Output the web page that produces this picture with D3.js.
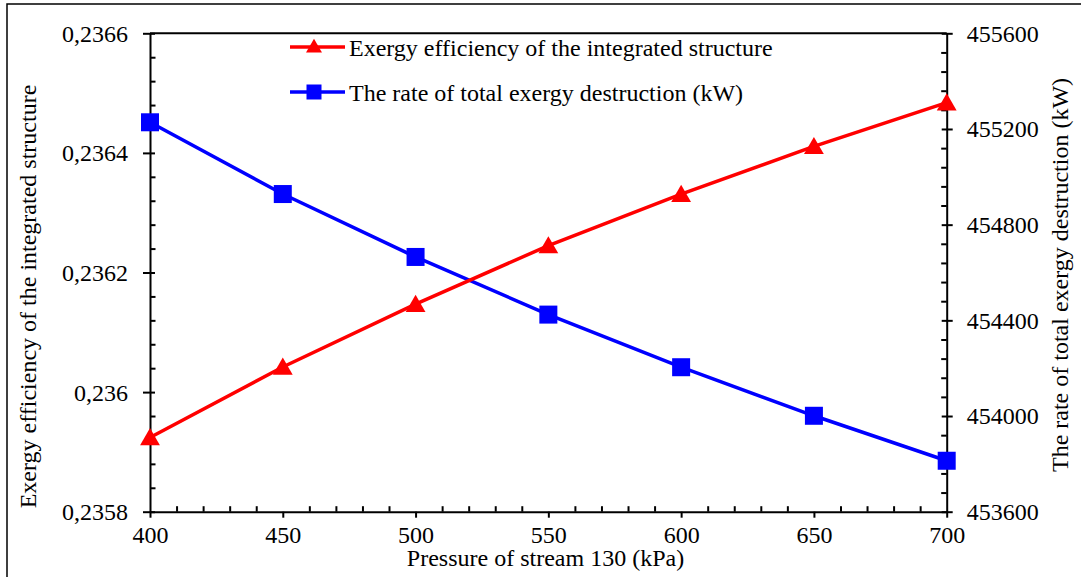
<!DOCTYPE html>
<html>
<head>
<meta charset="utf-8">
<script src="https://cdn.jsdelivr.net/npm/d3@7"></script>
<style>
  body { margin: 0; background: #fff; }
</style>
</head>
<body>
<div id="chart"></div>
<script>
// data
const pressure = [400, 450, 500, 550, 600, 650, 700];
const efficiency = [0.235924, 0.236042, 0.236147, 0.236245, 0.236331, 0.236411, 0.236484];
const destruction = [455228, 454928, 454665, 454424, 454204, 454001, 453813];

const xTicks = [400, 450, 500, 550, 600, 650, 700];
const leftTicks = [0.2358, 0.236, 0.2362, 0.2364, 0.2366];
const rightTicks = [453600, 454000, 454400, 454800, 455200, 455600];

const width = 1081, height = 577;
const margin = { left: 150, right: 1081 - 946.7, top: 33.3, bottom: 577 - 511.7 };
const serif = "Liberation Serif";

const svg = d3.select("#chart")
    .append("svg")
    .attr("width", width)
    .attr("height", height);

// outer frame (cut off at the right and bottom)
svg.append("rect")
    .attr("x", 7).attr("y", 4)
    .attr("width", 1100).attr("height", 600)
    .attr("fill", "none")
    .attr("stroke", "#000")
    .attr("stroke-width", 1.5);

const x = d3.scaleLinear().domain([400, 700]).range([margin.left, width - margin.right]);
const yL = d3.scaleLinear().domain([0.2358, 0.2366]).range([height - margin.bottom, margin.top]);
const yR = d3.scaleLinear().domain([453600, 455600]).range([height - margin.bottom, margin.top]);

const loc = d3.formatLocale({ decimal: ",", thousands: "", grouping: [3], currency: ["", ""] });
const fmtL = loc.format(".4~f");

const fontSize = 24;

// minor ticks
const minorX = d3.range(400, 700.01, 10).filter(v => v % 50 !== 0);
const minorL = d3.range(0, 20).map(i => 0.2358 + i * 0.00004).filter((v, i) => i % 5 !== 0);
const minorR = d3.range(0, 25).map(i => 453600 + i * 80).filter((v, i) => i % 5 !== 0);

svg.append("g")
    .attr("transform", `translate(0,${height - margin.bottom})`)
    .call(d3.axisBottom(x).tickValues(minorX).tickSize(-5.5).tickFormat(""))
    .call(g => g.select(".domain").remove())
    .selectAll("line").attr("stroke-width", 2);

svg.append("g")
    .attr("transform", `translate(${margin.left},0)`)
    .call(d3.axisLeft(yL).tickValues(minorL).tickSize(-5.5).tickFormat(""))
    .call(g => g.select(".domain").remove())
    .selectAll("line").attr("stroke-width", 2);

svg.append("g")
    .attr("transform", `translate(${width - margin.right},0)`)
    .call(d3.axisRight(yR).tickValues(minorR).tickSize(-5.5).tickFormat(""))
    .call(g => g.select(".domain").remove())
    .selectAll("line").attr("stroke-width", 2);

// top frame line
svg.append("line")
    .attr("x1", margin.left).attr("x2", width - margin.right)
    .attr("y1", margin.top).attr("y2", margin.top)
    .attr("stroke", "#000").attr("stroke-width", 2);

// major axes
const xAxis = svg.append("g")
    .attr("transform", `translate(0,${height - margin.bottom})`)
    .call(d3.axisBottom(x).tickValues(xTicks).tickSize(6).tickSizeOuter(0));

const lAxis = svg.append("g")
    .attr("transform", `translate(${margin.left},0)`)
    .call(d3.axisLeft(yL).tickValues(leftTicks).tickFormat(fmtL).tickSize(7).tickSizeOuter(0).tickPadding(15));
lAxis.selectAll(".tick line").attr("x2", 5).attr("x1", -7);

const rAxis = svg.append("g")
    .attr("transform", `translate(${width - margin.right},0)`)
    .call(d3.axisRight(yR).tickValues(rightTicks).tickFormat(d3.format("d")).tickSize(6).tickSizeOuter(0).tickPadding(14));
rAxis.selectAll(".tick line").attr("x1", -5).attr("x2", 6);

[xAxis, lAxis, rAxis].forEach(g => {
    g.select(".domain").attr("stroke-width", 2);
    g.selectAll(".tick line").attr("stroke-width", 2);
    g.selectAll("text")
        .style("font-family", serif)
        .style("font-size", fontSize + "px")
        .attr("fill", "#000");
});
xAxis.selectAll("text").attr("y", 31.5).attr("dy", 0);
lAxis.selectAll("text").attr("dy", "0.33em");
rAxis.selectAll("text").attr("dy", "0.33em");

function label(sel, str) {
    return sel.style("font-family", serif)
        .style("font-size", fontSize + "px")
        .attr("fill", "#000")
        .text(str);
}

// axis titles
label(svg.append("text")
    .attr("x", 545.5)
    .attr("y", 566)
    .attr("text-anchor", "middle"), "Pressure of stream 130 (kPa)");

label(svg.append("text")
    .attr("transform", `translate(36,296.5) rotate(-90)`)
    .attr("text-anchor", "middle"), "Exergy efficiency of the integrated structure");

label(svg.append("text")
    .attr("transform", `translate(1068,275) rotate(-90)`)
    .attr("text-anchor", "middle"), "The rate of total exergy destruction (kW)");

// series
const redLine = d3.line().x((d, i) => x(pressure[i])).y(d => yL(d));
const blueLine = d3.line().x((d, i) => x(pressure[i])).y(d => yR(d));

svg.append("path")
    .datum(destruction)
    .attr("d", blueLine)
    .attr("fill", "none")
    .attr("stroke", "#0000ff")
    .attr("stroke-width", 3.5);

svg.append("path")
    .datum(efficiency)
    .attr("d", redLine)
    .attr("fill", "none")
    .attr("stroke", "#ff0000")
    .attr("stroke-width", 3.5);

const tri = d3.symbol().type(d3.symbolTriangle).size(170);
const sq = 18;

svg.append("g")
    .selectAll("rect")
    .data(destruction)
    .join("rect")
    .attr("x", (d, i) => x(pressure[i]) - sq / 2)
    .attr("y", d => yR(d) - sq / 2)
    .attr("width", sq).attr("height", sq)
    .attr("fill", "#0000ff");

svg.append("g")
    .selectAll("path")
    .data(efficiency)
    .join("path")
    .attr("d", tri)
    .attr("transform", (d, i) => `translate(${x(pressure[i])},${yL(d) + 2})`)
    .attr("fill", "#ff0000");

// legend
const legend = [
    { name: "Exergy efficiency of the integrated structure", color: "#ff0000", y: 47 },
    { name: "The rate of total exergy destruction (kW)", color: "#0000ff", y: 92 }
];
const lg = svg.append("g");
legend.forEach((d, i) => {
    lg.append("line")
        .attr("x1", 290).attr("x2", 345)
        .attr("y1", d.y).attr("y2", d.y)
        .attr("stroke", d.color).attr("stroke-width", 3.5);
    if (i === 0) {
        lg.append("path")
            .attr("d", d3.symbol().type(d3.symbolTriangle).size(110))
            .attr("transform", `translate(314,${d.y + 1})`)
            .attr("fill", d.color);
    } else {
        lg.append("rect")
            .attr("x", 314 - 7.5).attr("y", d.y - 7.5)
            .attr("width", 15).attr("height", 15)
            .attr("fill", d.color);
    }
    label(lg.append("text")
        .attr("x", 349)
        .attr("y", d.y + 9), d.name);
});
</script>
</body>
</html>
